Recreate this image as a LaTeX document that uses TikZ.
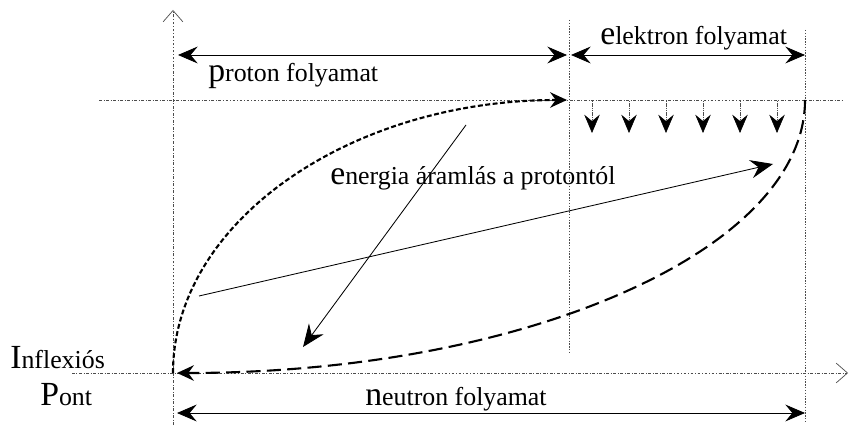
\documentclass[tikz,border=0pt]{standalone}
\usepackage{fontspec}
\setmainfont{Liberation Serif}
\usetikzlibrary{arrows.meta}
\tikzset{
  every picture/.style={line join=round, >=Stealth},
  guide/.style={gray!60!black, line width=0.5pt, dash pattern=on 2pt off 1.2pt on 0.6pt off 1.2pt},
  vguide/.style={gray!60!black, line width=0.6pt, dash pattern=on 1pt off 1pt},
  axis/.style={guide, -{Straight Barb[length=8pt,width=14pt,line width=0.5pt]}},
  span/.style={line width=0.6pt, {Stealth[length=14pt,width=12pt,inset=5pt]}-{Stealth[length=14pt,width=12pt,inset=5pt]}},
  flow/.style={line width=0.6pt, -{Stealth[length=16pt,width=13pt,inset=5.5pt]}},
  drop/.style={gray!60!black, line width=0.4pt, dash pattern=on 1pt off 0.6pt, -{Stealth[length=13pt,width=11pt,inset=4.5pt,black]}},
  shortdash/.style={line width=1.5pt, dash pattern=on 3.5pt off 1.8pt, -{Stealth[length=12pt,width=11pt,inset=4pt]}},
  longdash/.style={line width=1.5pt, dash pattern=on 10pt off 4.5pt, -{Stealth[length=12pt,width=11pt,inset=4pt]}},
  txt/.style={anchor=base west, inner sep=0pt, font=\fontsize{18.4}{22}\selectfont},
}
\newcommand\capl[1]{{\fontsize{24}{24}\selectfont #1}}
\begin{document}
\begin{tikzpicture}
\useasboundingbox (0,0) rectangle (21.275,10.675);
% key points
\coordinate (O) at (4.325,1.35);
\coordinate (P) at (14.175,8.175);
\coordinate (E) at (20.125,8.175);
\coordinate (N) at (4.425,1.35);
% axes and guides
\draw[axis] (4.325,0.05) -- (4.325,10.425);
\draw[axis] (1.8,1.35) -- (21.2,1.35);
\draw[guide] (2.475,8.175) -- (21.075,8.175);
\draw[vguide] (14.225,10.175) -- (14.225,1.85);
\draw[vguide] (20.125,9.925) -- (20.125,0.125);
% spans
\coordinate (pa) at (4.45,9.3);
\coordinate (pb) at (14.175,9.3);
\coordinate (ea) at (14.275,9.3);
\coordinate (eb) at (20.125,9.3);
\coordinate (na) at (4.425,0.35);
\coordinate (nb) at (20.125,0.35);
\draw[span] (pa) -- (pb);
\draw[span] (ea) -- (eb);
\draw[span] (na) -- (nb);
% curves
\draw[shortdash] (O) arc[start angle=180, end angle=90, x radius=9.85, y radius=6.825];
\draw[longdash] (E) arc[start angle=0, end angle=-90, x radius=15.7, y radius=6.825];
% electron drops
\foreach \i in {0,...,5}
  \draw[drop] (14.8+0.925*\i,8.15) -- (14.8+0.925*\i,7.35);
% energy flow
\coordinate (fa) at (4.975,3.275);
\coordinate (fb) at (19.325,6.575);
\coordinate (ga) at (11.65,7.55);
\coordinate (gb) at (7.575,2.0);
\draw[flow] (fa) -- (fb);
\draw[flow] (ga) -- (gb);
% labels
\node[txt] (proton) at (5.2,8.625) {\capl{p}roton folyamat};
\node[txt] (elektron) at (15.0,9.55) {\capl{e}lektron folyamat};
\node[txt] (energia) at (8.25,6.05) {\capl{e}nergia áramlás a protontól};
\node[txt] (inflex) at (0.25,1.475) {\capl{I}nflexiós};
\node[txt] (pont) at (1.0,0.55) {\capl{P}ont};
\node[txt] (neutron) at (9.125,0.55) {\capl{n}eutron folyamat};
\end{tikzpicture}
\end{document}
